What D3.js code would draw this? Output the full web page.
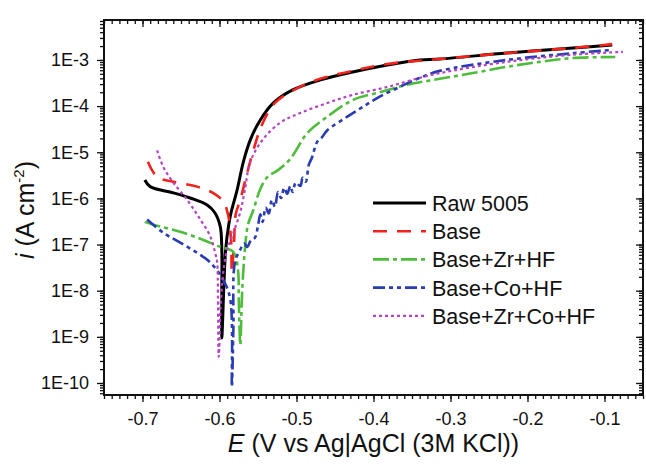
<!DOCTYPE html>
<html>
<head>
<meta charset="utf-8">
<script src="https://cdn.jsdelivr.net/npm/d3@7"></script>
<style>
  body { margin: 0; background: #fff; }
  text { font-family: "Liberation Sans", Arial, sans-serif; fill: #111; }
</style>
</head>
<body>
<svg id="chart" width="646" height="472"></svg>
<script>
// E (V) vs i (A cm-2)
var raw5005 = [[-0.697,2.5e-6],[-0.690,1.8e-6],[-0.660,1.32e-6],[-0.638,1.02e-6],[-0.616,7.2e-7],
    [-0.606,4.9e-7],[-0.599,2.45e-7],[-0.597,7.8e-8],[-0.597,1.05e-8],[-0.597,9.5e-10],
    [-0.594,1.74e-8],[-0.592,7.8e-8],[-0.588,2.7e-7],[-0.585,4.9e-7],[-0.577,1.55e-6],
    [-0.569,6.2e-6],[-0.560,1.86e-5],[-0.547,5.0e-5],[-0.530,1.17e-4],[-0.505,2.24e-4],
    [-0.469,3.7e-4],[-0.427,5.5e-4],[-0.382,7.8e-4],[-0.340,1.0e-3],[-0.314,1.05e-3],
    [-0.227,1.41e-3],[-0.141,1.82e-3],[-0.090,2.1e-3]];

var base = [[-0.693,6.2e-6],[-0.681,2.9e-6],[-0.660,2.3e-6],[-0.629,1.8e-6],[-0.608,1.3e-6],
    [-0.595,8.5e-7],[-0.589,4.5e-7],[-0.585,1.25e-7],[-0.584,2.5e-8],[-0.581,1.25e-7],
    [-0.579,4.5e-7],[-0.573,9.3e-7],[-0.564,3.6e-6],[-0.556,1.1e-5],[-0.545,3.9e-5],
    [-0.528,1.17e-4],[-0.502,2.3e-4],[-0.469,3.9e-4],[-0.427,5.8e-4],[-0.382,8.2e-4],
    [-0.314,1.05e-3],[-0.227,1.41e-3],[-0.141,1.82e-3],[-0.090,2.2e-3]];

var baseZr = [[-0.697,3.1e-7],[-0.686,2.7e-7],[-0.651,1.9e-7],[-0.621,1.26e-7],[-0.599,8.9e-8],
    [-0.582,6.9e-8],[-0.576,2.8e-8],[-0.575,6.5e-9],[-0.573,6.8e-10],[-0.571,6.5e-9],
    [-0.569,2.8e-8],[-0.567,7.8e-8],[-0.563,2.7e-7],[-0.556,5.6e-7],[-0.547,1.6e-6],
    [-0.537,3.0e-6],[-0.524,4.1e-6],[-0.508,7.2e-6],[-0.486,2.6e-5],[-0.460,5.9e-5],
    [-0.427,1.35e-4],[-0.392,2.0e-4],[-0.356,2.9e-4],[-0.314,3.9e-4],[-0.271,5.2e-4],
    [-0.227,7.1e-4],[-0.184,9.1e-4],[-0.141,1.1e-3],[-0.086,1.16e-3]];

var baseCo = [[-0.694,3.5e-7],[-0.673,1.8e-7],[-0.651,1.1e-7],[-0.629,6.6e-8],[-0.612,4.1e-8],
    [-0.595,1.7e-8],[-0.586,6.5e-9],[-0.584,8.3e-11],[-0.582,1.4e-9],[-0.580,4.1e-8],
    [-0.573,7.8e-8],[-0.568,1.05e-7],[-0.564,8.9e-8],[-0.559,1.26e-7],[-0.554,1.41e-7],
    [-0.550,2.57e-7],[-0.547,4.5e-7],[-0.544,3.1e-7],[-0.540,6.3e-7],[-0.536,4.7e-7],
    [-0.532,9.3e-7],[-0.528,6.6e-7],[-0.524,1.38e-6],[-0.520,1.02e-6],[-0.516,1.7e-6],
    [-0.512,1.26e-6],[-0.508,1.86e-6],[-0.505,1.38e-6],[-0.501,2.2e-6],[-0.495,1.86e-6],
    [-0.492,2.8e-6],[-0.488,2.3e-6],[-0.484,5.4e-6],[-0.480,7.6e-6],[-0.473,1.7e-5],
    [-0.467,2.1e-5],[-0.460,3.0e-5],[-0.434,5.9e-5],[-0.414,9.6e-5],[-0.392,1.6e-4],
    [-0.366,2.6e-4],[-0.340,4.1e-4],[-0.314,5.8e-4],[-0.227,1.0e-3],[-0.141,1.4e-3],
    [-0.090,1.65e-3]];

var baseZrCo = [[-0.681,1.1e-5],[-0.673,4.8e-6],[-0.660,2.2e-6],[-0.642,9.3e-7],[-0.625,3.5e-7],
    [-0.612,1.5e-7],[-0.605,6.0e-8],[-0.603,4.1e-8],[-0.602,7.4e-9],[-0.601,3.7e-10],
    [-0.598,6.5e-9],[-0.594,3.6e-8],[-0.590,7.8e-8],[-0.582,1.8e-7],[-0.573,5.1e-7],
    [-0.567,1.55e-6],[-0.560,6.2e-6],[-0.544,1.86e-5],[-0.521,4.4e-5],[-0.495,7.1e-5],
    [-0.460,1.17e-4],[-0.427,1.75e-4],[-0.382,2.6e-4],[-0.340,4.1e-4],[-0.314,5.2e-4],
    [-0.227,9.1e-4],[-0.141,1.3e-3],[-0.076,1.5e-3]];

var seriesNames = ["Raw 5005", "Base", "Base+Zr+HF", "Base+Co+HF", "Base+Zr+Co+HF"];
var xTicks = [-0.7, -0.6, -0.5, -0.4, -0.3, -0.2, -0.1];
var yTicks = [1e-10, 1e-9, 1e-8, 1e-7, 1e-6, 1e-5, 1e-4, 1e-3];

var styles = [
    {color: "#000000", width: 3, dash: null},
    {color: "#f2231d", width: 2.6, dash: "14,10"},
    {color: "#4dbd3b", width: 2.6, dash: "16,4,4,4"},
    {color: "#2a3cb2", width: 2.6, dash: "12,4,4,4,4,4"},
    {color: "#b343c2", width: 2.2, dash: "3,3"}
];
var allSeries = [raw5005, base, baseZr, baseCo, baseZrCo];

var svg = d3.select("#chart");
var pLeft = 104, pRight = 643, pTop = 20, pBottom = 395;

var x = d3.scaleLinear().domain([-0.75, -0.05]).range([pLeft, pRight]);
var y = d3.scaleLog().domain([Math.pow(10, -10.26), Math.pow(10, -2.134)]).range([pBottom, pTop]);

var xMinor = d3.range(0, 71).map(function(i){ return -0.75 + i * 0.01; });
var yMinor = y.ticks().filter(function(d){ return d >= y.domain()[0] && d <= y.domain()[1]; });

function styleAxis(g){
    g.select(".domain").remove();
    g.selectAll("line").attr("stroke", "#111").attr("stroke-width", 1.3);
}

// minor ticks
svg.append("g").attr("transform", "translate(0," + pBottom + ")")
    .call(d3.axisBottom(x).tickValues(xMinor).tickSize(4).tickFormat("")).call(styleAxis);
svg.append("g").attr("transform", "translate(0," + pTop + ")")
    .call(d3.axisTop(x).tickValues(xMinor).tickSize(-4).tickFormat("")).call(styleAxis);
svg.append("g").attr("transform", "translate(" + pLeft + ",0)")
    .call(d3.axisLeft(y).tickValues(yMinor).tickSize(4).tickFormat("")).call(styleAxis);
svg.append("g").attr("transform", "translate(" + pRight + ",0)")
    .call(d3.axisRight(y).tickValues(yMinor).tickSize(-4).tickFormat("")).call(styleAxis);

// major ticks + labels
var xAxis = svg.append("g").attr("transform", "translate(0," + pBottom + ")")
    .call(d3.axisBottom(x).tickValues(xTicks).tickSize(7).tickPadding(10)
        .tickFormat(function(d){ return d.toFixed(1); }))
    .call(styleAxis);
xAxis.selectAll("text").attr("font-size", 18).style("font-family", "Liberation Sans, Arial").attr("fill", "#111");

var yAxis = svg.append("g").attr("transform", "translate(" + pLeft + ",0)")
    .call(d3.axisLeft(y).tickValues(yTicks).tickSize(7).tickPadding(8)
        .tickFormat(function(d){ return "1E" + Math.round(Math.log10(d)); }))
    .call(styleAxis);
yAxis.selectAll("text").attr("font-size", 18).style("font-family", "Liberation Sans, Arial").attr("fill", "#111");

svg.append("g").attr("transform", "translate(0," + pTop + ")")
    .call(d3.axisTop(x).tickValues(xTicks).tickSize(-7).tickFormat("")).call(styleAxis);
svg.append("g").attr("transform", "translate(" + pRight + ",0)")
    .call(d3.axisRight(y).tickValues(yTicks).tickSize(-7).tickFormat("")).call(styleAxis);

// curves
var line = d3.line()
    .x(function(d){ return x(d[0]); })
    .y(function(d){ return y(d[1]); })
    .curve(d3.curveCatmullRom.alpha(0.5));

var plot = svg.append("g");
allSeries.forEach(function(data, i){
    plot.append("path")
        .datum(data)
        .attr("d", line)
        .attr("fill", "none")
        .attr("stroke", styles[i].color)
        .attr("stroke-width", styles[i].width)
        .attr("stroke-dasharray", styles[i].dash)
        .attr("stroke-linejoin", "round");
});

// frame
svg.append("rect")
    .attr("x", pLeft).attr("y", pTop)
    .attr("width", pRight - pLeft).attr("height", pBottom - pTop)
    .attr("fill", "none").attr("stroke", "#111").attr("stroke-width", 2);

// legend
var legend = svg.append("g").attr("class", "legend");
seriesNames.forEach(function(name, i){
    var ly = 203 + i * 28.2;
    legend.append("line")
        .attr("x1", 373).attr("x2", 426).attr("y1", ly).attr("y2", ly)
        .attr("stroke", styles[i].color)
        .attr("stroke-width", styles[i].width)
        .attr("stroke-dasharray", styles[i].dash);
    legend.append("text")
        .attr("x", 432).attr("y", ly + 8)
        .attr("font-size", 21.5)
        .text(name);
});

// axis titles
var xt = svg.append("text")
    .attr("x", (pLeft + pRight) / 2).attr("y", 452)
    .attr("text-anchor", "middle")
    .attr("font-size", 25);
xt.append("tspan").attr("font-style", "italic").text("E");
xt.append("tspan").text(" (V vs Ag|AgCl (3M KCl))");

var yt = svg.append("text")
    .attr("transform", "translate(34,210) rotate(-90)")
    .attr("text-anchor", "middle")
    .attr("font-size", 25);
yt.append("tspan").attr("font-style", "italic").text("i");
yt.append("tspan").text(" (A cm");
yt.append("tspan").attr("font-size", 15).attr("dy", -10).text("-2");
yt.append("tspan").attr("dy", 10).text(")");
</script>
</body>
</html>
